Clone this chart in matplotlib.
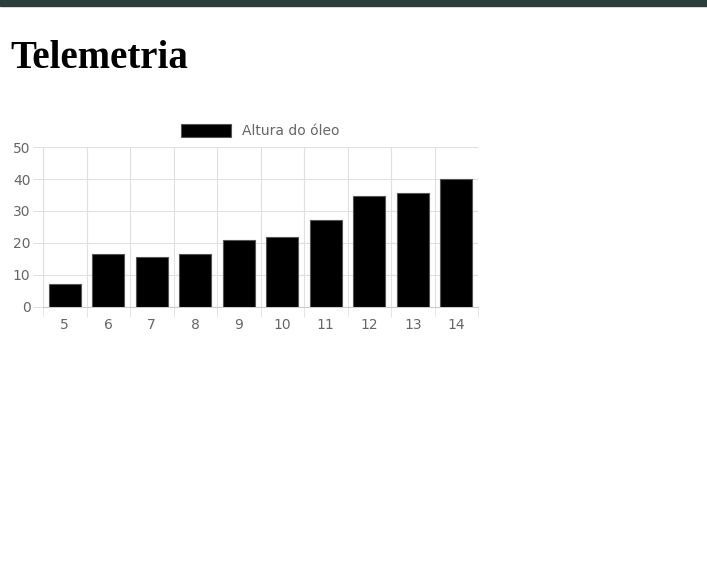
import matplotlib
matplotlib.use("Agg")
import matplotlib.pyplot as plt
import numpy as np

categories = ["5", "6", "7", "8", "9", "10", "11", "12", "13", "14"]
values = [7.2, 16.6, 15.6, 16.6, 20.9, 21.9, 27.2, 34.7, 35.6, 40.0]
yticks = [0, 10, 20, 30, 40, 50]

W, H = 707, 577
fig = plt.figure(figsize=(W/100, H/100), dpi=100)
fig.add_artist(plt.Rectangle((0, 1 - 6/H), 1, 6/H, transform=fig.transFigure, color="#2b3f3a"))
fig.text(10/W, 1 - 58/H, "Telemetria", family="Liberation Serif", weight="bold", fontsize=28, va="center", ha="left")

ax = fig.add_axes([43/W, (H-307)/H, (478-43)/W, 160/H])
x = np.arange(len(categories))
ax.bar(x, values, width=0.73, color="black", edgecolor="#555555", linewidth=0.8, label="Altura do óleo", zorder=3)
ax.set_xlim(-0.5, len(categories) - 0.5)
ax.set_ylim(0, 50)
ax.set_yticks(yticks)
ax.set_xticks(x)
ax.set_xticklabels(categories)
ax.set_xticks(np.arange(-0.5, len(categories)), minor=True)
ax.grid(True, which="major", axis="y", color="#e0e0e0", linewidth=0.8)
ax.grid(True, which="minor", axis="x", color="#e0e0e0", linewidth=0.8)
ax.tick_params(axis="x", which="major", length=0, colors="#666666", labelsize=10, pad=8)
ax.tick_params(axis="x", which="minor", length=7, color="#e0e0e0")
ax.tick_params(axis="y", length=7, color="#e0e0e0", labelcolor="#666666", labelsize=10, pad=2)
for s in ax.spines.values():
    s.set_color("#e0e0e0")
ax.spines["top"].set_visible(False)
ax.spines["right"].set_visible(False)
ax.spines["bottom"].set_color("#cccccc")
leg = ax.legend(loc="lower center", bbox_to_anchor=(0.5, 1.02), frameon=False, handlelength=3.6, handleheight=1.0,
                fontsize=10, labelcolor="#666666", borderaxespad=0)
fig.savefig("out.png", dpi=100)
